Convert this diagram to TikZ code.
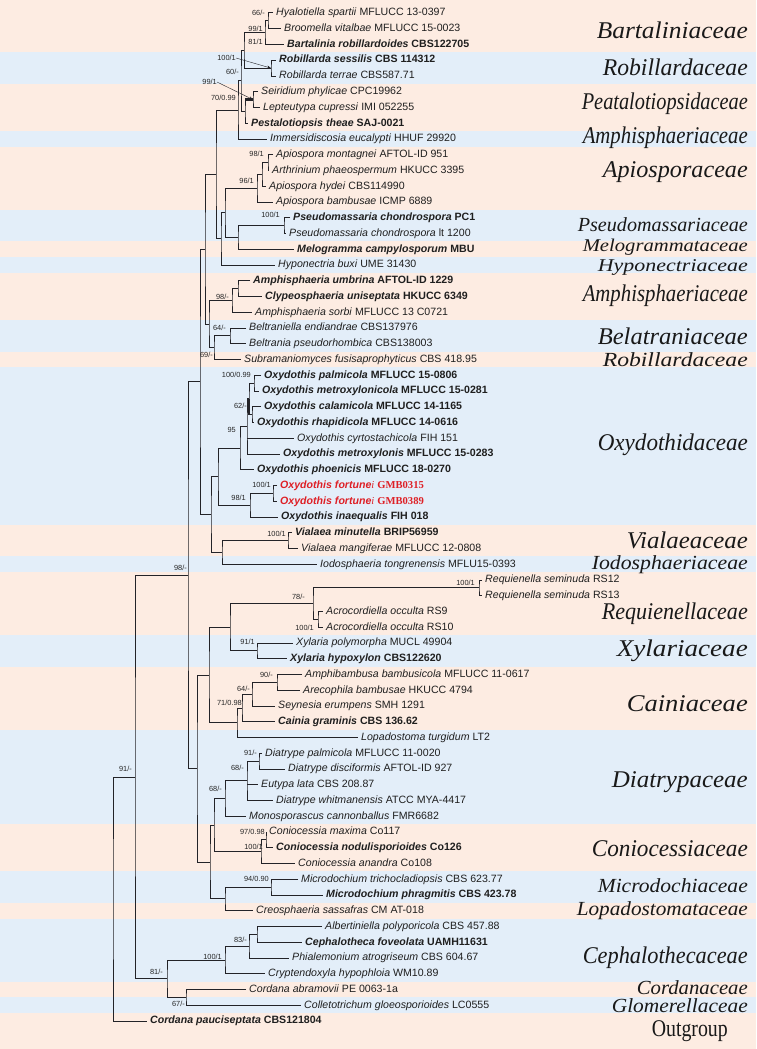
\documentclass[tikz,border=0pt]{standalone}
\usepackage{graphicx}
\usepackage{fontspec}
\setmainfont{Liberation Sans}
\newfontfamily\timesfont{Liberation Serif}
\usetikzlibrary{arrows.meta}
\definecolor{peach}{RGB}{253,236,226}
\definecolor{paleblue}{RGB}{227,238,249}
\definecolor{fortred}{RGB}{222,32,38}
\definecolor{treeline}{RGB}{35,35,40}

\begin{document}
\begin{tikzpicture}[x=1pt,y=-1pt,
    taxon/.style={anchor=west,inner xsep=3pt,inner ysep=0pt,text height=7.5pt,text depth=2pt,
      text=black!88,font=\fontsize{10.6}{11}\selectfont},
    supp/.style={anchor=east,inner sep=0pt,text=black!85,font=\fontsize{7.4}{7.4}\selectfont},
    fam/.style={anchor=east,inner sep=0pt,text=black!90,font=\timesfont\itshape\fontsize{24}{24}\selectfont},
    tightfam/.style={fam,font=\timesfont\itshape\fontsize{20}{20}\selectfont},
    smallfam/.style={fam,font=\timesfont\itshape\fontsize{18}{18}\selectfont},
    branch/.style={draw=treeline,line width=1pt}]
  \useasboundingbox (0,0) rectangle (756,1049);

  % family bands
  \fill [peach] (0,0) rectangle (756,52.4);
  \fill [paleblue] (0,52.4) rectangle (756,83.9);
  \fill [peach] (0,83.9) rectangle (756,131.1);
  \fill [paleblue] (0,131.1) rectangle (756,146.9);
  \fill [peach] (0,146.9) rectangle (756,209.9);
  \fill [paleblue] (0,209.9) rectangle (756,241.4);
  \fill [peach] (0,241.4) rectangle (756,257.1);
  \fill [paleblue] (0,257.1) rectangle (756,272.9);
  \fill [peach] (0,272.9) rectangle (756,320.1);
  \fill [paleblue] (0,320.1) rectangle (756,351.6);
  \fill [peach] (0,351.6) rectangle (756,367.4);
  \fill [paleblue] (0,367.4) rectangle (756,524.9);
  \fill [peach] (0,524.9) rectangle (756,556.4);
  \fill [paleblue] (0,556.4) rectangle (756,572.1);
  \fill [peach] (0,572.1) rectangle (756,635.1);
  \fill [paleblue] (0,635.1) rectangle (756,666.6);
  \fill [peach] (0,666.6) rectangle (756,729.6);
  \fill [paleblue] (0,729.6) rectangle (756,824.1);
  \fill [peach] (0,824.1) rectangle (756,871.4);
  \fill [paleblue] (0,871.4) rectangle (756,902.9);
  \fill [peach] (0,902.9) rectangle (756,918.6);
  \fill [paleblue] (0,918.6) rectangle (756,981.6);
  \fill [peach] (0,981.6) rectangle (756,997.4);
  \fill [paleblue] (0,997.4) rectangle (756,1013.1);
  \fill [peach] (0,1013.1) rectangle (756,1049);

  % taxa
  \node [taxon] (t1) at (273,13) {\textit{Hyalotiella spartii} MFLUCC 13-0397};
  \node [taxon] (t2) at (281,28.75) {\textit{Broomella vitalbae} MFLUCC 15-0023};
  \node [taxon] (t3) at (284,44.5) {\textbf{\textit{Bartalinia robillardoides} CBS122705}};
  \node [taxon] (t4) at (276,60.25) {\textbf{\textit{Robillarda sessilis} CBS 114312}};
  \node [taxon] (t5) at (276,76) {\textit{Robillarda terrae} CBS587.71};
  \node [taxon] (t6) at (258,91.75) {\textit{Seiridium phylicae} CPC19962};
  \node [taxon] (t7) at (260,107.5) {\textit{Lepteutypa cupressi} IMI 052255};
  \node [taxon] (t8) at (248,123.25) {\textbf{\textit{Pestalotiopsis theae} SAJ-0021}};
  \node [taxon] (t9) at (267,139) {\textit{Immersidiscosia eucalypti} HHUF 29920};
  \node [taxon] (t10) at (273,154.75) {\textit{Apiospora montagnei} AFTOL-ID 951};
  \node [taxon] (t11) at (269,170.5) {\textit{Arthrinium phaeospermum} HKUCC 3395};
  \node [taxon] (t12) at (266,186.25) {\textit{Apiospora hydei} CBS114990};
  \node [taxon] (t13) at (273,202) {\textit{Apiospora bambusae} ICMP 6889};
  \node [taxon] (t14) at (290,217.75) {\textbf{\textit{Pseudomassaria chondrospora} PC1}};
  \node [taxon] (t15) at (286,233.5) {\textit{Pseudomassaria chondrospora} lt 1200};
  \node [taxon] (t16) at (294,249.25) {\textbf{\textit{Melogramma campylosporum} MBU}};
  \node [taxon] (t17) at (275,265) {\textit{Hyponectria buxi} UME 31430};
  \node [taxon] (t18) at (250,280.75) {\textbf{\textit{Amphisphaeria umbrina} AFTOL-ID 1229}};
  \node [taxon] (t19) at (262,296.5) {\textbf{\textit{Clypeosphaeria uniseptata} HKUCC 6349}};
  \node [taxon] (t20) at (252,312.25) {\textit{Amphisphaeria sorbi} MFLUCC 13 C0721};
  \node [taxon] (t21) at (246,328) {\textit{Beltraniella endiandrae} CBS137976};
  \node [taxon] (t22) at (246,343.75) {\textit{Beltrania pseudorhombica} CBS138003};
  \node [taxon] (t23) at (241,359.5) {\textit{Subramaniomyces fusisaprophyticus} CBS 418.95};
  \node [taxon] (t24) at (261,375.25) {\textbf{\textit{Oxydothis palmicola} MFLUCC 15-0806}};
  \node [taxon] (t25) at (259,391) {\textbf{\textit{Oxydothis metroxylonicola} MFLUCC 15-0281}};
  \node [taxon] (t26) at (261,406.75) {\textbf{\textit{Oxydothis calamicola} MFLUCC 14-1165}};
  \node [taxon] (t27) at (254,422.5) {\textbf{\textit{Oxydothis rhapidicola} MFLUCC 14-0616}};
  \node [taxon] (t28) at (294,438.25) {\textit{Oxydothis cyrtostachicola} FIH 151};
  \node [taxon] (t29) at (280,454) {\textbf{\textit{Oxydothis metroxylonis} MFLUCC 15-0283}};
  \node [taxon] (t30) at (254,469.75) {\textbf{\textit{Oxydothis phoenicis} MFLUCC 18-0270}};
  \node [taxon,text=fortred] (t31) at (277,485.5) {\textbf{\textit{Oxydothis fortune}}{\timesfont\itshape i} {\timesfont\bfseries GMB0315}};
  \node [taxon,text=fortred] (t32) at (277,501.25) {\textbf{\textit{Oxydothis fortune}}{\timesfont\itshape i} {\timesfont\bfseries GMB0389}};
  \node [taxon] (t33) at (278,517) {\textbf{\textit{Oxydothis inaequalis} FIH 018}};
  \node [taxon] (t34) at (292,532.75) {\textbf{\textit{Vialaea minutella} BRIP56959}};
  \node [taxon] (t35) at (298,548.5) {\textit{Vialaea mangiferae} MFLUCC 12-0808};
  \node [taxon] (t36) at (317,564.25) {\textit{Iodosphaeria tongrenensis} MFLU15-0393};
  \node [taxon] (t37) at (482,580) {\textit{Requienella seminuda} RS12};
  \node [taxon] (t38) at (482,595.75) {\textit{Requienella seminuda} RS13};
  \node [taxon] (t39) at (323,611.5) {\textit{Acrocordiella occulta} RS9};
  \node [taxon] (t40) at (323,627.25) {\textit{Acrocordiella occulta} RS10};
  \node [taxon] (t41) at (293,643) {\textit{Xylaria polymorpha} MUCL 49904};
  \node [taxon] (t42) at (287,658.75) {\textbf{\textit{Xylaria hypoxylon} CBS122620}};
  \node [taxon] (t43) at (302,674.5) {\textit{Amphibambusa bambusicola} MFLUCC 11-0617};
  \node [taxon] (t44) at (300,690.25) {\textit{Arecophila bambusae} HKUCC 4794};
  \node [taxon] (t45) at (275,706) {\textit{Seynesia erumpens} SMH 1291};
  \node [taxon] (t46) at (275,721.75) {\textbf{\textit{Cainia graminis} CBS 136.62}};
  \node [taxon] (t47) at (358,737.5) {\textit{Lopadostoma turgidum} LT2};
  \node [taxon] (t48) at (262,753.25) {\textit{Diatrype palmicola} MFLUCC 11-0020};
  \node [taxon] (t49) at (285,769) {\textit{Diatrype disciformis} AFTOL-ID 927};
  \node [taxon] (t50) at (258,784.75) {\textit{Eutypa lata} CBS 208.87};
  \node [taxon] (t51) at (273,800.5) {\textit{Diatrype whitmanensis} ATCC MYA-4417};
  \node [taxon] (t52) at (246,816.25) {\textit{Monosporascus cannonballus} FMR6682};
  \node [taxon] (t53) at (266,832) {\textit{Coniocessia maxima} Co117};
  \node [taxon] (t54) at (273,847.75) {\textbf{\textit{Coniocessia nodulisporioides} Co126}};
  \node [taxon] (t55) at (295,863.5) {\textit{Coniocessia anandra} Co108};
  \node [taxon] (t56) at (298,879.25) {\textit{Microdochium trichocladiopsis} CBS 623.77};
  \node [taxon] (t57) at (323,895) {\textbf{\textit{Microdochium phragmitis} CBS 423.78}};
  \node [taxon] (t58) at (253,910.75) {\textit{Creosphaeria sassafras} CM AT-018};
  \node [taxon] (t59) at (322,926.5) {\textit{Albertiniella polyporicola} CBS 457.88};
  \node [taxon] (t60) at (302,942.25) {\textbf{\textit{Cephalotheca foveolata} UAMH11631}};
  \node [taxon] (t61) at (289,958) {\textit{Phialemonium atrogriseum} CBS 604.67};
  \node [taxon] (t62) at (265,973.75) {\textit{Cryptendoxyla hypophloia} WM10.89};
  \node [taxon] (t63) at (246,989.5) {\textit{Cordana abramovii} PE 0063-1a};
  \node [taxon] (t64) at (301,1005.25) {\textit{Colletotrichum gloeosporioides} LC0555};
  \node [taxon] (t65) at (147,1021) {\textbf{\textit{Cordana pauciseptata} CBS121804}};

  % internal nodes
  \coordinate (n66) at (268,20.9);
  \coordinate (n99a) at (265,32.7);
  \coordinate (nrob) at (271,68.1);
  \coordinate (n81) at (244,50.4);
  \coordinate (nseir) at (253,99.6);
  \coordinate (npest) at (245,111.4);
  \coordinate (n60) at (241,80.9);
  \coordinate (n70) at (238,110);
  \coordinate (n98b) at (268,162.6);
  \coordinate (nhyd) at (262,174.4);
  \coordinate (n96) at (257,188.2);
  \coordinate (npseu) at (284,225.6);
  \coordinate (nmelo) at (238,237.4);
  \coordinate (napio) at (225,212.8);
  \coordinate (nhypo) at (221,238.9);
  \coordinate (ntop) at (216,174.5);
  \coordinate (numb) at (238,288.6);
  \coordinate (n98c) at (232,300.4);
  \coordinate (n64a) at (230,335.9);
  \coordinate (n69) at (214,347.7);
  \coordinate (nab) at (209,324.1);
  \coordinate (namph) at (205,249.3);
  \coordinate (npalm) at (254,383.1);
  \coordinate (ncala) at (252,414.6);
  \coordinate (ng) at (249,398.9);
  \coordinate (n95) at (247,426.4);
  \coordinate (nphoe) at (240,448.1);
  \coordinate (nfort) at (273,493.4);
  \coordinate (n98d) at (250,505.2);
  \coordinate (nd) at (218,476.6);
  \coordinate (nvia) at (288,540.6);
  \coordinate (nj) at (222,552.4);
  \coordinate (nc) at (211,514.5);
  \coordinate (nb) at (200,381.9);
  \coordinate (nreq) at (479,587.9);
  \coordinate (nacro) at (318,619.4);
  \coordinate (n78) at (313,603.6);
  \coordinate (nxyl) at (257,650.9);
  \coordinate (nxr) at (230,627.2);
  \coordinate (n90) at (277,682.4);
  \coordinate (n64b) at (252,694.2);
  \coordinate (n71) at (242,708);
  \coordinate (ncain) at (237,722.8);
  \coordinate (nxc) at (209,675);
  \coordinate (n91d) at (259,761.1);
  \coordinate (n68a) at (247,780.8);
  \coordinate (n68b) at (225,798.5);
  \coordinate (n97) at (266,839.9);
  \coordinate (ncon) at (261,851.7);
  \coordinate (ndc) at (214,825.1);
  \coordinate (n94) at (271,887.1);
  \coordinate (nmc) at (225,898.9);
  \coordinate (ncm) at (210,862);
  \coordinate (nlo) at (197,768.5);
  \coordinate (na) at (188,575.2);
  \coordinate (nalb) at (257,934.4);
  \coordinate (n83) at (249,946.2);
  \coordinate (n100c) at (225,960);
  \coordinate (n67) at (186,997.4);
  \coordinate (n81b) at (167,978.7);
  \coordinate (n91) at (135,777);
  \coordinate (nroot) at (113,899);

  % branches
  \draw [branch] (t1.west) -| (n66) |- (t2.west);
  \draw [branch] (n66) -| (n99a) |- (t3.west);
  \draw [branch] (t4.west) -| (nrob) |- (t5.west);
  \draw [branch] (n99a) -| (n81) |- (nrob);
  \draw [branch] (t6.west) -| (nseir) |- (t7.west);
  \draw [branch] (nseir) -| (npest) |- (t8.west);
  \draw [branch] (n81) -| (n60) |- (npest);
  \draw [branch] (n60) -| (n70) |- (t9.west);
  \draw [branch] (t10.west) -| (n98b) |- (t11.west);
  \draw [branch] (n98b) -| (nhyd) |- (t12.west);
  \draw [branch] (nhyd) -| (n96) |- (t13.west);
  \draw [branch] (t14.west) -| (npseu) |- (t15.west);
  \draw [branch] (npseu) -| (nmelo) |- (t16.west);
  \draw [branch] (n96) -| (napio) |- (nmelo);
  \draw [branch] (napio) -| (nhypo) |- (t17.west);
  \draw [branch] (n70) -| (ntop) |- (nhypo);
  \draw [branch] (t18.west) -| (numb) |- (t19.west);
  \draw [branch] (numb) -| (n98c) |- (t20.west);
  \draw [branch] (t21.west) -| (n64a) |- (t22.west);
  \draw [branch] (n64a) -| (n69) |- (t23.west);
  \draw [branch] (n98c) -| (nab) |- (n69);
  \draw [branch] (ntop) -| (namph) |- (nab);
  \draw [branch] (t24.west) -| (npalm) |- (t25.west);
  \draw [branch] (t26.west) -| (ncala) |- (t27.west);
  \draw [branch] (npalm) -| (ng) |- (ncala);
  \draw [branch,line width=2.4pt] (ng) -- (ng |- ncala);
  \draw [branch] (ng) -| (n95) |- (t29.west);
  \draw [branch] (n95 |- t28.west) -- (t28.west);
  \draw [branch] (n95) -| (nphoe) |- (t30.west);
  \draw [branch] (t31.west) -| (nfort) |- (t32.west);
  \draw [branch] (nfort) -| (n98d) |- (t33.west);
  \draw [branch] (nphoe) -| (nd) |- (n98d);
  \draw [branch] (t34.west) -| (nvia) |- (t35.west);
  \draw [branch] (nvia) -| (nj) |- (t36.west);
  \draw [branch] (nd) -| (nc) |- (nj);
  \draw [branch] (namph) -| (nb) |- (nc);
  \draw [branch] (t37.west) -| (nreq) |- (t38.west);
  \draw [branch] (t39.west) -| (nacro) |- (t40.west);
  \draw [branch] (nreq) -| (n78) |- (nacro);
  \draw [branch] (t41.west) -| (nxyl) |- (t42.west);
  \draw [branch] (n78) -| (nxr) |- (nxyl);
  \draw [branch] (t43.west) -| (n90) |- (t44.west);
  \draw [branch] (n90) -| (n64b) |- (t45.west);
  \draw [branch] (n64b) -| (n71) |- (t46.west);
  \draw [branch] (n71) -| (ncain) |- (t47.west);
  \draw [branch] (nxr) -| (nxc) |- (ncain);
  \draw [branch] (t48.west) -| (n91d) |- (t49.west);
  \draw [branch] (n91d) -| (n68a) |- (t51.west);
  \draw [branch] (n68a |- t50.west) -- (t50.west);
  \draw [branch] (n68a) -| (n68b) |- (t52.west);
  \draw [branch] (t53.west) -| (n97) |- (t54.west);
  \draw [branch] (n97) -| (ncon) |- (t55.west);
  \draw [branch] (n68b) -| (ndc) |- (ncon);
  \draw [branch] (t56.west) -| (n94) |- (t57.west);
  \draw [branch] (n94) -| (nmc) |- (t58.west);
  \draw [branch] (ndc) -| (ncm) |- (nmc);
  \draw [branch] (nxc) -| (nlo) |- (ncm);
  \draw [branch] (nb) -| (na) |- (nlo);
  \draw [branch] (t59.west) -| (nalb) |- (t60.west);
  \draw [branch] (nalb) -| (n83) |- (t61.west);
  \draw [branch] (n83) -| (n100c) |- (t62.west);
  \draw [branch] (t63.west) -| (n67) |- (t64.west);
  \draw [branch] (n100c) -| (n81b) |- (n67);
  \draw [branch] (na) -| (n91) |- (n81b);
  \draw [branch] (n91) -| (nroot) |- (t65.west);

  % support values
  \node [supp] (s66) at (265,13) {66/-};
  \node [supp] (s99a) at (263,29) {99/1};
  \node [supp] (s81) at (263,42) {81/1};
  \node [supp] (srob) at (236,58) {100/1};
  \node [supp] (s60) at (239,72) {60/-};
  \node [supp] (sseir) at (217,82) {99/1};
  \node [supp] (s70) at (236,98) {70/0.99};
  \node [supp] (s98b) at (264,154) {98/1};
  \node [supp] (s96) at (254,181) {96/1};
  \node [supp] (spseu) at (280,215) {100/1};
  \node [supp] (s98c) at (229,297) {98/-};
  \node [supp] (s64a) at (226,328) {64/-};
  \node [supp] (s69) at (213,355) {69/-};
  \node [supp] (spalm) at (251,375) {100/0.99};
  \node [supp] (s62) at (247,406) {62/-};
  \node [supp] (s95) at (236,430) {95};
  \node [supp] (sfort) at (271,485) {100/1};
  \node [supp] (s98d) at (246,498) {98/1};
  \node [supp] (svia) at (286,534) {100/1};
  \node [supp] (sna) at (187,568) {98/-};
  \node [supp] (sreq) at (475,583) {100/1};
  \node [supp] (s78) at (305,597) {78/-};
  \node [supp] (sacro) at (314,628) {100/1};
  \node [supp] (sxyl) at (255,642) {91/1};
  \node [supp] (s90) at (273,675) {90/-};
  \node [supp] (s64b) at (250,689) {64/-};
  \node [supp] (s71) at (242,703) {71/0.98};
  \node [supp] (s91d) at (257,753) {91/-};
  \node [supp] (s68a) at (244,768) {68/-};
  \node [supp] (s68b) at (222,789) {68/-};
  \node [supp] (s91) at (132,769) {91/-};
  \node [supp] (s97) at (265,832) {97/0.98};
  \node [supp] (scon) at (263,847) {100/1};
  \node [supp] (s94) at (269,879) {94/0.90};
  \node [supp] (s83) at (247,940) {83/-};
  \node [supp] (s100c) at (222,957) {100/1};
  \node [supp] (s81b) at (163,972) {81/-};
  \node [supp] (s67) at (185,1004) {67/-};

  % pointers to the short nodes
  \draw [treeline,-{Stealth[length=4pt,width=3pt]}] (srob.east) -- (nrob);
  \draw [treeline,-{Stealth[length=4pt,width=3pt]}] (sseir.east) -- (nseir);
  \draw [treeline,line width=3pt] (npest |- nseir) -- (nseir);

  % families
  \node [fam] (f1) at (748,30) {\resizebox{151pt}{\height}{Bartaliniaceae}};
  \node [fam] (f2) at (748,67) {\resizebox{145pt}{\height}{Robillardaceae}};
  \node [fam] (f3) at (748,104) {\resizebox{166pt}{\height}{Peatalotiopsidaceae}};
  \node [fam] (f4) at (748,138) {\resizebox{165pt}{\height}{Amphisphaeriaceae}};
  \node [fam] (f5) at (748,172) {\resizebox{145pt}{\height}{Apiosporaceae}};
  \node [tightfam] (f6) at (748,225) {\resizebox{170pt}{\height}{Pseudomassariaceae}};
  \node [smallfam] (f7) at (748,247) {\resizebox{165pt}{\height}{Melogrammataceae}};
  \node [smallfam] (f8) at (748,267) {\resizebox{150pt}{\height}{Hyponectriaceae}};
  \node [fam] (f9) at (748,296) {\resizebox{165pt}{\height}{Amphisphaeriaceae}};
  \node [fam] (f10) at (748,336) {\resizebox{150pt}{\height}{Belatraniaceae}};
  \node [tightfam] (f11) at (748,360) {\resizebox{145pt}{\height}{Robillardaceae}};
  \node [fam] (f12) at (748,445) {\resizebox{150pt}{\height}{Oxydothidaceae}};
  \node [fam] (f13) at (748,540) {\resizebox{121pt}{\height}{Vialaeaceae}};
  \node [tightfam] (f14) at (748,565) {\resizebox{156pt}{\height}{Iodosphaeriaceae}};
  \node [fam] (f15) at (748,614) {\resizebox{146pt}{\height}{Requienellaceae}};
  \node [fam] (f16) at (748,651) {\resizebox{131pt}{\height}{Xylariaceae}};
  \node [fam] (f17) at (748,704) {\resizebox{121pt}{\height}{Cainiaceae}};
  \node [fam] (f18) at (748,782) {\resizebox{136pt}{\height}{Diatrypaceae}};
  \node [fam] (f19) at (748,849) {\resizebox{156pt}{\height}{Coniocessiaceae}};
  \node [tightfam] (f20) at (748,886) {\resizebox{150pt}{\height}{Microdochiaceae}};
  \node [tightfam] (f21) at (748,911) {\resizebox{171pt}{\height}{Lopadostomataceae}};
  \node [fam] (f22) at (748,958) {\resizebox{165pt}{\height}{Cephalothecaceae}};
  \node [tightfam] (f23) at (748,988) {\resizebox{111pt}{\height}{Cordanaceae}};
  \node [tightfam] (f24) at (748,1006) {\resizebox{136pt}{\height}{Glomerellaceae}};
  \node [fam,font=\timesfont\fontsize{24}{24}\selectfont] (f25) at (728,1031) {\resizebox{76pt}{\height}{Outgroup}};
\end{tikzpicture}
\end{document}
